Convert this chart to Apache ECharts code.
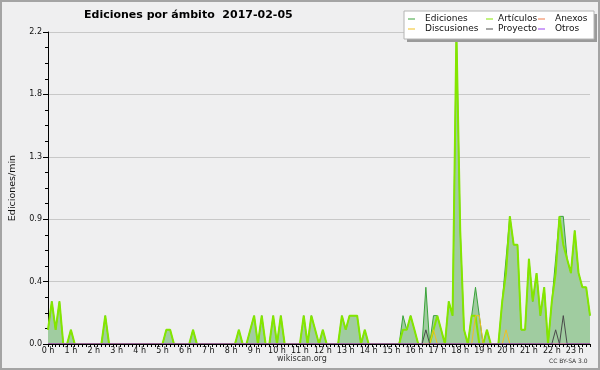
<!DOCTYPE html>
<html>
<head>
<meta charset="utf-8">
<script src="https://cdn.jsdelivr.net/npm/echarts@6/dist/echarts.min.js"></script>
<style>
  html, body { margin: 0; padding: 0; background: #efeff0; }
  #chart { width: 600px; height: 370px; }
</style>
</head>
<body>
<div id="chart"></div>
<script>
// one value every 10 minutes, 0:00 -> 23:40 (ediciones / min)
var hourLabels = ['0 h', '1 h', '2 h', '3 h', '4 h', '5 h', '6 h', '7 h', '8 h', '9 h', '10 h', '11 h',
  '12 h', '13 h', '14 h', '15 h', '16 h', '17 h', '18 h', '19 h', '20 h', '21 h', '22 h', '23 h'];

var ediciones = [
  0.1, 0.3, 0.1, 0.3, 0, 0, 0.1, 0, 0, 0, 0, 0,
  0, 0, 0, 0.2, 0, 0, 0, 0, 0, 0, 0, 0,
  0, 0, 0, 0, 0, 0, 0, 0.1, 0.1, 0, 0, 0,
  0, 0, 0.1, 0, 0, 0, 0, 0, 0, 0, 0, 0,
  0, 0, 0.1, 0, 0, 0.1, 0.2, 0, 0.2, 0, 0, 0.2,
  0, 0.2, 0, 0, 0, 0, 0, 0.2, 0, 0.2, 0.1, 0,
  0.1, 0, 0, 0, 0, 0.2, 0.1, 0.2, 0.2, 0.2, 0, 0.1,
  0, 0, 0, 0, 0, 0, 0, 0, 0, 0.2, 0.1, 0.2,
  0.1, 0, 0, 0.4, 0, 0.2, 0.2, 0.1, 0, 0.3, 0.2, 2.2,
  0.8, 0.1, 0, 0.2, 0.4, 0.2, 0, 0.1, 0, 0, 0, 0.3,
  0.6, 0.9, 0.7, 0.7, 0.1, 0.1, 0.6, 0.3, 0.5, 0.2, 0.4, 0,
  0.3, 0.6, 0.9, 0.9, 0.6, 0.5, 0.8, 0.5, 0.4, 0.4, 0.2
];

var articulos = [
  0.1, 0.3, 0.1, 0.3, 0, 0, 0.1, 0, 0, 0, 0, 0,
  0, 0, 0, 0.2, 0, 0, 0, 0, 0, 0, 0, 0,
  0, 0, 0, 0, 0, 0, 0, 0.1, 0.1, 0, 0, 0,
  0, 0, 0.1, 0, 0, 0, 0, 0, 0, 0, 0, 0,
  0, 0, 0.1, 0, 0, 0.1, 0.2, 0, 0.2, 0, 0, 0.2,
  0, 0.2, 0, 0, 0, 0, 0, 0.2, 0, 0.2, 0.1, 0,
  0.1, 0, 0, 0, 0, 0.2, 0.1, 0.2, 0.2, 0.2, 0, 0.1,
  0, 0, 0, 0, 0, 0, 0, 0, 0, 0.1, 0.1, 0.2,
  0.1, 0, 0, 0, 0, 0.1, 0.2, 0.1, 0, 0.3, 0.2, 2.2,
  0.8, 0.1, 0, 0.2, 0.2, 0, 0, 0.1, 0, 0, 0, 0.3,
  0.5, 0.9, 0.7, 0.7, 0.1, 0.1, 0.6, 0.3, 0.5, 0.2, 0.4, 0,
  0.3, 0.5, 0.9, 0.7, 0.6, 0.5, 0.8, 0.5, 0.4, 0.4, 0.2
];

var anexos = [
  0, 0, 0, 0, 0, 0, 0, 0, 0, 0, 0, 0,
  0, 0, 0, 0, 0, 0, 0, 0, 0, 0, 0, 0,
  0, 0, 0, 0, 0, 0, 0, 0, 0, 0, 0, 0,
  0, 0, 0, 0, 0, 0, 0, 0, 0, 0, 0, 0,
  0, 0, 0, 0, 0, 0, 0, 0, 0, 0, 0, 0,
  0, 0, 0, 0, 0, 0, 0, 0, 0, 0, 0, 0,
  0, 0, 0, 0, 0, 0, 0, 0, 0, 0, 0, 0,
  0, 0, 0, 0, 0, 0, 0, 0, 0, 0, 0, 0,
  0, 0, 0, 0, 0, 0, 0, 0, 0, 0, 0, 0,
  0, 0, 0, 0, 0, 0, 0, 0, 0, 0, 0, 0,
  0, 0, 0, 0, 0, 0, 0, 0, 0, 0, 0, 0,
  0, 0, 0, 0, 0, 0, 0, 0, 0, 0, 0
];

var discusiones = [
  0, 0, 0, 0, 0, 0, 0, 0, 0, 0, 0, 0,
  0, 0, 0, 0, 0, 0, 0, 0, 0, 0, 0, 0,
  0, 0, 0, 0, 0, 0, 0, 0, 0, 0, 0, 0,
  0, 0, 0, 0, 0, 0, 0, 0, 0, 0, 0, 0,
  0, 0, 0, 0, 0, 0, 0, 0, 0, 0, 0, 0,
  0, 0, 0, 0, 0, 0, 0, 0, 0, 0, 0, 0,
  0, 0, 0, 0, 0, 0, 0, 0, 0, 0, 0, 0,
  0, 0, 0, 0, 0, 0, 0, 0, 0, 0, 0, 0,
  0, 0, 0, 0, 0, 0.1, 0, 0, 0, 0, 0, 0,
  0, 0, 0, 0, 0.2, 0.2, 0, 0, 0, 0, 0, 0,
  0.1, 0, 0, 0, 0, 0, 0, 0, 0, 0, 0, 0,
  0, 0, 0, 0, 0, 0, 0, 0, 0, 0, 0
];

var proyecto = [
  0, 0, 0, 0, 0, 0, 0, 0, 0, 0, 0, 0,
  0, 0, 0, 0, 0, 0, 0, 0, 0, 0, 0, 0,
  0, 0, 0, 0, 0, 0, 0, 0, 0, 0, 0, 0,
  0, 0, 0, 0, 0, 0, 0, 0, 0, 0, 0, 0,
  0, 0, 0, 0, 0, 0, 0, 0, 0, 0, 0, 0,
  0, 0, 0, 0, 0, 0, 0, 0, 0, 0, 0, 0,
  0, 0, 0, 0, 0, 0, 0, 0, 0, 0, 0, 0,
  0, 0, 0, 0, 0, 0, 0, 0, 0, 0, 0, 0,
  0, 0, 0, 0.1, 0, 0, 0, 0, 0, 0, 0, 0,
  0, 0, 0, 0, 0, 0, 0, 0, 0, 0, 0, 0,
  0, 0, 0, 0, 0, 0, 0, 0, 0, 0, 0, 0,
  0, 0.1, 0, 0.2, 0, 0, 0, 0, 0, 0, 0
];

var otros = [
  0, 0, 0, 0, 0, 0, 0, 0, 0, 0, 0, 0,
  0, 0, 0, 0, 0, 0, 0, 0, 0, 0, 0, 0,
  0, 0, 0, 0, 0, 0, 0, 0, 0, 0, 0, 0,
  0, 0, 0, 0, 0, 0, 0, 0, 0, 0, 0, 0,
  0, 0, 0, 0, 0, 0, 0, 0, 0, 0, 0, 0,
  0, 0, 0, 0, 0, 0, 0, 0, 0, 0, 0, 0,
  0, 0, 0, 0, 0, 0, 0, 0, 0, 0, 0, 0,
  0, 0, 0, 0, 0, 0, 0, 0, 0, 0, 0, 0,
  0, 0, 0, 0, 0, 0, 0, 0, 0, 0, 0, 0,
  0, 0, 0, 0, 0, 0, 0, 0, 0, 0, 0, 0,
  0, 0, 0, 0, 0, 0, 0, 0, 0, 0, 0, 0,
  0, 0, 0, 0, 0, 0, 0, 0, 0, 0, 0
];

var font = 'DejaVu Sans';

function pairs(arr) {
  return arr.map(function (v, i) { return [i, v]; });
}

function lineSerie(name, arr, color, width, extra) {
  var s = {
    name: name,
    type: 'line',
    data: pairs(arr),
    symbol: 'none',
    itemStyle: { color: color },
    lineStyle: { color: color, width: width },
    z: 2
  };
  for (var k in extra) s[k] = extra[k];
  return s;
}

function legendCol(left, names, pad) {
  return {
    orient: 'vertical',
    left: left,
    top: 14,
    padding: 0,
    itemGap: 0,
    itemWidth: 7,
    itemHeight: 1,
    icon: 'rect',
    selectedMode: false,
    z: 10,
    textStyle: {
      fontFamily: font,
      fontSize: 9,
      lineHeight: 10,
      color: '#111',
      padding: [0, 0, 0, pad]
    },
    data: names
  };
}

var chart = echarts.init(document.getElementById('chart'));
chart.setOption({
  animation: false,
  backgroundColor: '#efeff0',
  title: {
    text: 'Ediciones por ámbito  2017-02-05',
    left: 84,
    top: 10,
    padding: 0,
    textStyle: { fontFamily: font, fontSize: 11, fontWeight: 'bold', color: '#000' }
  },
  legend: [
    legendCol(408, ['Ediciones', 'Discusiones'], 5),
    legendCol(486, ['Artículos', 'Proyecto'], 0),
    legendCol(538, ['Anexos', 'Otros'], 5)
  ],
  grid: { left: 46, right: 10, top: 32, bottom: 26 },
  xAxis: {
    type: 'value',
    min: 0,
    max: 142,
    interval: 1,
    z: 3,
    axisLine: { lineStyle: { color: '#000', width: 1 } },
    axisTick: { length: 3, lineStyle: { color: '#000' } },
    splitLine: { show: false },
    axisLabel: {
      margin: 3,
      fontFamily: font,
      fontSize: 8,
      color: '#111',
      formatter: function (v) {
        var i = Math.round(v);
        return i % 6 === 0 && hourLabels[i / 6] ? hourLabels[i / 6] : '';
      }
    }
  },
  yAxis: {
    type: 'value',
    min: 0,
    max: 2.2,
    interval: 0.44,
    name: 'Ediciones/min',
    nameLocation: 'middle',
    nameGap: 30,
    nameTextStyle: { fontFamily: font, fontSize: 9.5, color: '#111' },
    axisLine: { show: true, lineStyle: { color: '#000', width: 1 } },
    axisTick: { show: true, length: 5, lineStyle: { color: '#000' } },
    minorTick: { show: true, splitNumber: 4, length: 3, lineStyle: { color: '#000' } },
    splitLine: { show: true, lineStyle: { color: '#c8c8c8', width: 1 } },
    axisLabel: {
      margin: 6,
      fontFamily: font,
      fontSize: 8,
      color: '#111',
      formatter: function (v) { return v.toFixed(1); }
    }
  },
  series: [
    lineSerie('Ediciones', ediciones, '#3aa33a', 1, { areaStyle: { color: '#a0cca0', opacity: 1 } }),
    lineSerie('Artículos', articulos, '#84e600', 2, {}),
    lineSerie('Anexos', anexos, '#f07a48', 1, {}),
    lineSerie('Discusiones', discusiones, '#f0c020', 1, {}),
    lineSerie('Proyecto', proyecto, '#4a4a4a', 1, {}),
    lineSerie('Otros', otros, '#9a40f0', 1, {})
  ],
  graphic: [
    { type: 'rect', z: 8, shape: { x: 407, y: 14, width: 190, height: 28 }, style: { fill: '#9a9a9a' } },
    { type: 'rect', z: 9, shape: { x: 404, y: 11, width: 190, height: 28 }, style: { fill: '#ffffff', stroke: '#b4b4b4', lineWidth: 1 } },
    { type: 'text', z: 9, left: 277, top: 355, style: { text: 'wikiscan.org', fontFamily: font, fontSize: 8, fill: '#333' } },
    { type: 'text', z: 9, left: 549, top: 358, style: { text: 'CC BY-SA 3.0', fontFamily: font, fontSize: 6, fill: '#333' } },
    { type: 'rect', z: 20, shape: { x: 1, y: 1, width: 598, height: 368 }, style: { fill: 'none', stroke: '#a4a4a4', lineWidth: 2 } }
  ]
});
</script>
</body>
</html>
